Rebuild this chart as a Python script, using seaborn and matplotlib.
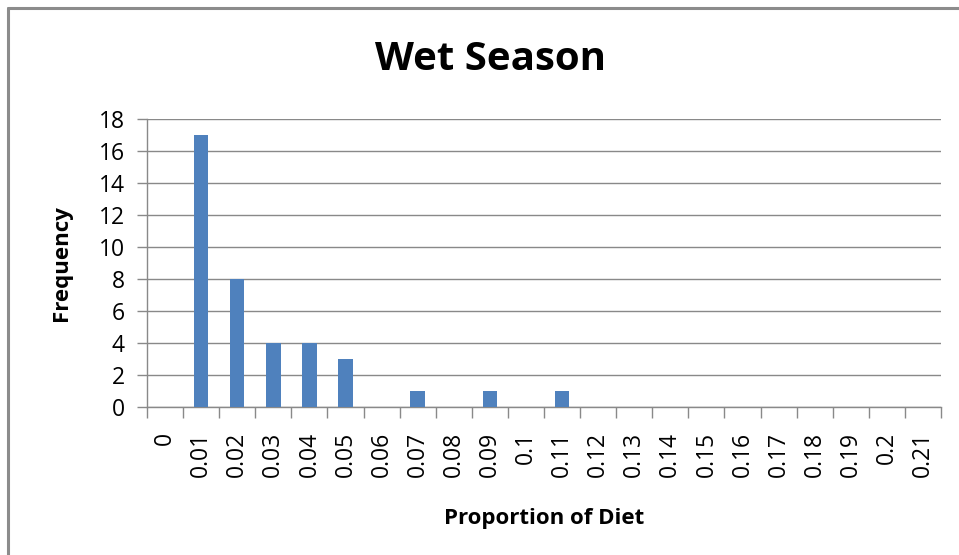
import matplotlib
matplotlib.use("Agg")
import matplotlib.pyplot as plt
from matplotlib.lines import Line2D
import seaborn as sns
import pandas as pd

# Histogram bins (proportion of diet) and their counts
bins = ["0", "0.01", "0.02", "0.03", "0.04", "0.05", "0.06", "0.07", "0.08",
        "0.09", "0.1", "0.11", "0.12", "0.13", "0.14", "0.15", "0.16", "0.17",
        "0.18", "0.19", "0.2", "0.21"]
counts = [0, 17, 8, 4, 4, 3, 0, 1, 0, 1, 0, 1, 0, 0, 0, 0, 0, 0, 0, 0, 0, 0]
y_ticks = [0, 2, 4, 6, 8, 10, 12, 14, 16, 18]

sns.set_theme(style="white")
plt.rcParams["font.family"] = ["Open Sans", "DejaVu Sans"]
plt.rcParams["text.color"] = "black"
plt.rcParams["axes.labelcolor"] = "black"
plt.rcParams["xtick.color"] = "black"
plt.rcParams["ytick.color"] = "black"

df = pd.DataFrame({"bin": bins, "count": counts})

fig = plt.figure(figsize=(9.59, 5.55), dpi=100)
ax = fig.add_axes([147 / 959, 1 - 407 / 555, (941 - 147) / 959, (407 - 119) / 555])

sns.barplot(data=df, x="bin", y="count", order=bins, color="#4F81BD",
            saturation=1, width=0.4, ax=ax, zorder=3, linewidth=0)

# Gridlines and axes styling
grid_c = "#898989"
ax.set_ylim(0, 18)
ax.set_yticks(y_ticks)
ax.set_xlim(-0.5, len(bins) - 0.5)
ax.yaxis.grid(True, color=grid_c, linewidth=1.0, zorder=0)
ax.xaxis.grid(False)
for side in ["top", "right"]:
    ax.spines[side].set_visible(False)
for side in ["left", "bottom"]:
    ax.spines[side].set_color(grid_c)
    ax.spines[side].set_linewidth(1.0)

# Category ticks sit between bars
ax.set_xticks([i - 0.5 for i in range(len(bins) + 1)], minor=True)
ax.tick_params(axis="x", which="minor", length=8, color=grid_c, width=1.0,
               direction="out", bottom=True)
ax.tick_params(axis="x", which="major", length=0, labelsize=16.5, rotation=90,
               pad=18, labelcolor="black")
ax.tick_params(axis="y", length=7, color=grid_c, width=1.0, direction="out",
               left=True, labelsize=16.5, pad=9, labelcolor="black")
for lab in ax.get_xticklabels():
    lab.set_verticalalignment("top")

ax.set_xlabel("Proportion of Diet", fontsize=16, fontweight="bold", labelpad=22)
ax.set_ylabel("Frequency", fontsize=16, fontweight="bold", labelpad=19)
fig.text(490 / 959, 1 - 60 / 555, "Wet Season", ha="center", va="center",
         fontsize=29, fontweight="bold")

# Outer chart frame (top and left edges)
frame_c = "#8C8C8C"
fig.add_artist(Line2D([8 / 959, 1.0], [1 - 7.5 / 555, 1 - 7.5 / 555],
                      transform=fig.transFigure, color=frame_c, linewidth=2.2))
fig.add_artist(Line2D([8 / 959, 8 / 959], [0.0, 1 - 7.5 / 555],
                      transform=fig.transFigure, color=frame_c, linewidth=2.2))

fig.savefig("out.png", dpi=100, facecolor="white")
